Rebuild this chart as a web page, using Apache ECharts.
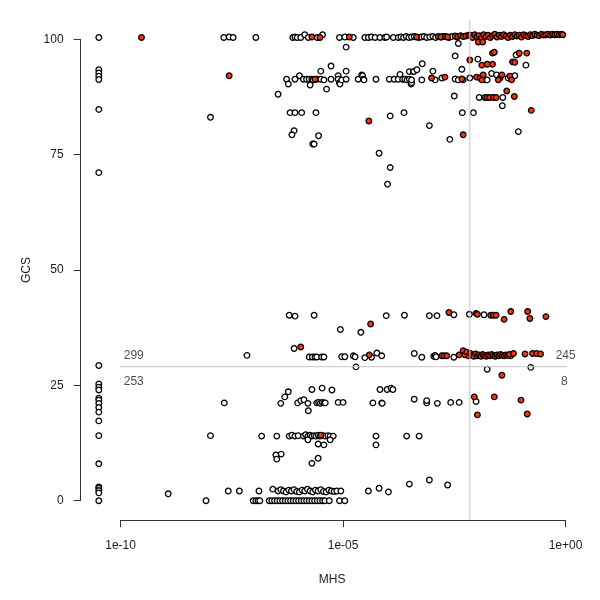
<!DOCTYPE html>
<html>
<head>
<meta charset="utf-8">
<script src="https://cdn.jsdelivr.net/npm/echarts@6/dist/echarts.min.js"></script>
<style>
  html, body { margin: 0; padding: 0; background: #fff; }
  #main { width: 600px; height: 600px; }
</style>
</head>
<body>
<div id="main"></div>
<script>
// x = log10(MHS), y = GCS
var openTop = [
  [-10.49, 100.4], [-7.68, 100.4], [-7.56, 100.5], [-7.47, 100.4], [-6.96, 100.4], [-6.13, 100.4],
  [-6.08, 100.5], [-6.03, 100.4], [-5.95, 100.4], [-5.86, 101.0], [-5.78, 100.4], [-5.58, 100.4],
  [-5.46, 101.0], [-5.08, 100.4], [-4.96, 100.5], [-4.93, 98.3], [-4.77, 100.4], [-4.51, 100.4],
  [-4.43, 100.4], [-4.36, 100.5], [-4.28, 100.4], [-4.17, 100.4], [-4.06, 100.4], [-4.02, 100.5],
  [-3.87, 100.4], [-3.76, 100.4], [-3.70, 100.5], [-3.64, 100.4], [-3.58, 100.6], [-3.52, 100.4],
  [-3.46, 100.5], [-3.40, 100.6], [-3.30, 100.4], [-3.24, 100.5], [-3.18, 100.6], [-3.12, 100.4],
  [-3.05, 100.5], [-2.98, 100.6], [-2.92, 100.4], [-2.80, 100.5], [-2.74, 100.6], [-2.62, 100.4],
  [-2.56, 100.6], [-2.44, 100.5], [-2.41, 99.1], [-2.48, 96.4], [-1.97, 95.7], [-1.06, 96.8],
  [-1.11, 96.6], [-3.22, 94.7], [-2.33, 93.5], [-0.89, 94.4]
];
var openUpper = [
  [-10.49, 93.4], [-10.49, 92.7], [-10.49, 92.0], [-10.49, 91.3], [-10.49, 84.8], [-10.49, 71.1],
  [-6.46, 88.1], [-6.27, 91.35], [-6.23, 90.3], [-6.08, 91.35], [-5.98, 92.1], [-5.89, 91.35],
  [-5.82, 91.35], [-5.76, 91.35], [-5.74, 90.1], [-5.70, 91.35], [-5.67, 91.2], [-5.59, 91.35],
  [-5.50, 93.1], [-5.50, 91.35], [-5.43, 91.2], [-5.37, 89.2], [-5.27, 94.2], [-5.27, 91.35],
  [-5.11, 92.1], [-5.11, 91.35], [-5.08, 90.6], [-5.07, 90.3], [-5.03, 91.2], [-4.93, 93.1],
  [-4.93, 91.35], [-4.66, 91.35], [-4.58, 92.3], [-4.56, 92.1], [-4.54, 91.35], [-4.53, 91.2],
  [-4.26, 91.35], [-3.96, 91.35], [-3.85, 91.35], [-3.76, 91.35], [-3.72, 92.4], [-3.66, 91.35],
  [-3.61, 91.35], [-3.56, 91.2], [-3.51, 91.35], [-3.51, 93.0], [-3.47, 90.3], [-3.46, 90.6],
  [-3.46, 91.2], [-3.42, 93.0], [-3.41, 93.0], [-3.34, 93.4], [-3.23, 91.2], [-2.98, 93.1],
  [-2.93, 91.2], [-2.78, 91.6], [-2.48, 91.4], [-2.41, 91.2], [-2.30, 91.2], [-2.15, 91.6],
  [-1.81, 91.2], [-1.76, 91.2], [-1.66, 92.6], [-1.55, 92.3], [-1.29, 91.6], [-1.14, 92.1],
  [-7.98, 83.1], [-6.19, 84.1], [-6.08, 84.1], [-5.93, 84.1], [-5.61, 84.1], [-3.94, 83.4],
  [-3.63, 84.1], [-3.06, 81.3], [-2.60, 78.3], [-2.32, 84.1], [-2.07, 84.1], [-1.06, 80.0],
  [-6.10, 80.2], [-6.15, 79.3], [-5.55, 79.1], [-5.68, 77.3], [-5.65, 77.3], [-4.19, 75.3],
  [-3.94, 72.2], [-4.00, 68.6], [-2.50, 87.7], [-1.94, 87.4], [-1.41, 87.4], [-1.42, 85.6]
];
var openMid = [
  [-10.49, 29.3], [-6.21, 40.2], [-6.08, 40.0], [-5.65, 40.2], [-4.03, 40.1], [-5.06, 37.1],
  [-4.60, 36.5], [-6.10, 33.0], [-7.16, 31.5], [-5.76, 31.15], [-5.69, 31.15], [-5.63, 31.15],
  [-5.59, 31.15], [-5.48, 31.15], [-5.43, 31.15], [-5.03, 31.2], [-4.96, 31.2], [-4.77, 31.4],
  [-4.73, 31.2], [-4.51, 31.0], [-4.36, 31.1], [-4.24, 32.0], [-4.13, 31.4], [-4.71, 29.0],
  [-3.62, 40.2], [-3.06, 40.1], [-2.89, 40.1], [-2.51, 40.3], [-2.16, 40.4], [-1.83, 40.3],
  [-3.40, 31.9], [-3.23, 31.1], [-2.96, 31.3], [-2.93, 31.5], [-2.91, 31.2], [-2.51, 31.1],
  [-1.23, 31.4], [-1.76, 28.5], [-0.78, 28.9]
];
var openLow = [
  [-10.49, 25.3], [-10.49, 24.6], [-10.49, 24.0], [-10.49, 22.2], [-10.49, 21.8], [-10.49, 21.1],
  [-10.49, 20.2], [-10.49, 19.2], [-10.49, 17.3], [-10.49, 14.1], [-10.49, 8.0], [-10.49, 3.0],
  [-10.49, 2.7], [-10.49, 2.2], [-10.49, 1.7], [-10.49, 0], [-8.93, 1.5], [-8.08, 0], [-7.98, 14.1],
  [-7.67, 21.2], [-6.23, 23.6], [-6.31, 22.5], [-6.40, 21.1], [-5.70, 24.1], [-5.47, 24.4],
  [-5.25, 24.0], [-6.02, 21.2], [-5.95, 21.7], [-5.88, 21.9], [-5.79, 21.1], [-5.78, 19.5],
  [-5.59, 21.2], [-5.55, 21.3], [-5.51, 21.1], [-5.47, 21.3], [-5.43, 21.2], [-5.40, 21.2],
  [-5.11, 21.3], [-5.00, 21.3], [-4.33, 21.2], [-4.13, 21.2], [-4.17, 24.1], [-4.01, 24.1],
  [-3.92, 24.4], [-3.88, 24.1], [-4.12, 21.1], [-3.40, 22.0], [-3.12, 21.2], [-3.12, 21.7],
  [-2.88, 21.1], [-2.58, 21.3], [-2.39, 21.3], [-2.01, 21.5]
];
var openRow14 = [
  [-6.83, 14.0], [-6.49, 14.0], [-6.21, 14.0], [-6.15, 14.2], [-6.08, 14.0], [-6.01, 14.1],
  [-5.89, 14.0], [-5.84, 14.3], [-5.79, 14.0], [-5.74, 14.2], [-5.70, 14.0], [-5.65, 14.1],
  [-5.61, 14.0], [-5.56, 14.2], [-5.52, 14.0], [-5.45, 14.1], [-5.40, 14.0], [-5.34, 14.1],
  [-5.29, 14.0], [-5.22, 14.0], [-5.79, 13.2], [-5.56, 12.3], [-5.43, 12.1], [-5.29, 13.2],
  [-4.26, 14.0], [-4.26, 12.1], [-3.57, 14.0], [-3.29, 14.0],
  [-6.51, 9.9], [-6.39, 10.1], [-6.49, 9.0], [-5.70, 8.1], [-5.56, 9.2]
];
var openBottom = [
  [-7.58, 2.1], [-7.33, 2.1], [-6.89, 2.1], [-6.58, 2.5], [-6.46, 2.1], [-6.40, 2.4], [-6.34, 2.1],
  [-6.28, 1.9], [-6.22, 2.3], [-6.16, 2.1], [-6.10, 2.4], [-6.04, 2.0], [-5.98, 1.9], [-5.92, 2.3],
  [-5.86, 2.1], [-5.80, 2.5], [-5.74, 2.1], [-5.68, 1.9], [-5.62, 2.3], [-5.56, 2.1], [-5.50, 2.4],
  [-5.44, 2.0], [-5.38, 1.9], [-5.32, 2.3], [-5.26, 2.1], [-5.20, 2.0], [-5.14, 2.1], [-5.05, 2.1],
  [-4.43, 2.1], [-4.19, 2.7], [-3.98, 1.9], [-3.51, 3.6], [-3.06, 4.5], [-2.65, 3.4],
  [-7.02, 0], [-6.96, 0], [-6.91, 0], [-6.87, 0], [-6.66, 0], [-6.60, 0], [-6.54, 0], [-6.48, 0],
  [-6.42, 0], [-6.36, 0], [-6.30, 0], [-6.24, 0], [-6.18, 0], [-6.12, 0], [-6.06, 0], [-6.00, 0],
  [-5.94, 0], [-5.88, 0], [-5.82, 0], [-5.76, 0], [-5.70, 0], [-5.64, 0], [-5.58, 0], [-5.52, 0],
  [-5.46, 0], [-5.41, 0], [-5.31, 0], [-5.08, 0], [-4.96, 0]
];

var redTop = [
  [-9.53, 100.4], [-5.70, 100.5], [-5.52, 100.4], [-4.86, 100.5], [-3.35, 100.5], [-2.86, 100.6],
  [-2.80, 100.5], [-2.70, 100.6], [-2.65, 100.5], [-2.48, 100.7], [-2.42, 100.6], [-2.36, 100.8],
  [-2.30, 100.6], [-2.24, 100.7], [-2.18, 100.9],
  [-2.14, 100.9], [-2.09, 100.4], [-2.04, 101.0], [-1.99, 100.6], [-1.94, 100.8], [-1.89, 100.3],
  [-1.84, 101.0], [-1.79, 100.6], [-1.74, 100.9], [-1.69, 100.4], [-1.64, 100.8], [-1.59, 101.1],
  [-1.54, 100.5], [-1.49, 100.9], [-1.44, 100.6], [-1.39, 101.0], [-1.34, 100.7], [-1.29, 100.4],
  [-1.24, 100.9], [-1.19, 100.6], [-1.14, 101.0], [-1.09, 100.7], [-1.04, 100.9], [-0.99, 100.5],
  [-0.94, 101.0], [-0.89, 100.8], [-0.84, 100.6], [-0.79, 101.0], [-0.74, 100.8], [-0.69, 101.1],
  [-0.64, 100.9], [-0.59, 100.8], [-0.54, 101.1], [-0.49, 100.9], [-0.44, 101.0], [-0.39, 101.1],
  [-0.34, 100.9], [-0.29, 101.1], [-0.24, 101.0], [-0.19, 101.1], [-0.14, 101.0], [-0.09, 101.1],
  [-0.06, 101.0],
  [-1.96, 99.4], [-1.86, 99.4], [-1.64, 97.0], [-1.60, 97.2], [-1.04, 97.0], [-0.87, 97.0],
  [-2.15, 95.5], [-1.88, 94.4], [-1.76, 94.6], [-1.64, 94.6], [-1.19, 95.1], [-1.14, 95.0]
];
var redUpper = [
  [-7.56, 92.1], [-5.63, 91.35], [-3.01, 91.6], [-2.71, 91.8], [-2.33, 91.4], [-2.00, 91.8],
  [-1.92, 91.6], [-1.88, 91.2], [-1.85, 92.3], [-1.47, 91.6], [-1.51, 91.2], [-1.43, 92.3],
  [-1.25, 92.0], [-1.21, 91.2], [-1.81, 87.4], [-1.76, 87.4], [-1.70, 87.4], [-1.62, 87.4],
  [-1.56, 87.4], [-1.32, 88.8], [-1.15, 87.6], [-0.77, 84.6], [-4.42, 82.3], [-2.30, 79.3]
];
var redMid = [
  [-5.95, 33.3], [-4.38, 38.3], [-4.41, 31.6], [-2.62, 40.8], [-2.01, 40.6], [-1.98, 40.4],
  [-1.68, 40.2], [-1.62, 40.2], [-1.56, 40.2], [-1.38, 39.3], [-1.23, 41.0], [-0.85, 41.0],
  [-0.80, 39.5], [-0.44, 39.9], [-2.78, 31.4], [-2.73, 31.4], [-2.67, 31.4], [-2.39, 31.6],
  [-2.30, 32.5], [-2.26, 31.6], [-2.22, 32.2], [-2.18, 31.4], [-2.14, 31.9], [-2.10, 31.5],
  [-2.06, 31.3], [-2.02, 31.8], [-1.98, 31.4], [-1.94, 31.6], [-1.90, 31.3], [-1.86, 31.7],
  [-1.82, 31.5], [-1.78, 31.3], [-1.74, 31.6], [-1.70, 31.4], [-1.66, 31.7], [-1.62, 31.5],
  [-1.58, 31.3], [-1.54, 31.6], [-1.50, 31.4], [-1.46, 31.7], [-1.42, 31.5], [-1.38, 31.4],
  [-1.34, 31.6], [-1.30, 31.5], [-1.26, 31.7], [-1.17, 31.9], [-0.91, 31.8], [-0.74, 31.9],
  [-0.65, 31.9], [-0.56, 31.8]
];
var redLow = [
  [-5.50, 14.2], [-1.43, 27.2], [-2.05, 22.5], [-1.60, 22.5], [-1.00, 21.8], [-1.98, 18.6],
  [-0.86, 18.8]
];

// cut lines and quadrant counts
var mhsCut = -2.15;
var gcsCut = 29.05;
var quadCounts = ['299', '253', '245', '8'];
var quadX = [-9.94, -9.94, 0.24, 0.06];
var quadY = [31.4, 25.9, 31.4, 25.9];
var quadSide = ['right', 'right', 'left', 'left'];

// full plotting region (R adds 4% around the data)
var xLo = -10.9, xHi = 0.4, yLo = -4.2, yHi = 104.2;

var openPts = [].concat(openTop, openUpper, openMid, openLow, openRow14, openBottom);
var redPts = [].concat(redTop, redUpper, redMid, redLow);

var font = 'Liberation Sans, Arial, Helvetica, sans-serif';
var ink = '#1a1a1a';

function expLabel (v) {
  if (v === 0) return '1e+00';
  var e = Math.abs(v);
  return '1e' + (v < 0 ? '-' : '+') + (e < 10 ? '0' + e : e);
}

var labelData = quadCounts.map(function (c, i) {
  return {
    value: [quadX[i], quadY[i]],
    label: { show: true, formatter: c, position: quadSide[i], distance: 0 }
  };
});

var chart = echarts.init(document.getElementById('main'));
chart.setOption({
  animation: false,
  backgroundColor: '#fff',
  grid: { left: 120.6, right: 34.5, top: 39.3, bottom: 99.3 },
  xAxis: {
    type: 'value',
    min: -10,
    max: 0,
    interval: 5,
    offset: 19.5,
    name: 'MHS',
    nameLocation: 'middle',
    nameGap: 53,
    nameTextStyle: { fontFamily: font, fontSize: 12, color: ink, padding: [0, 22, 0, 0] },
    axisLine: { onZero: false, lineStyle: { color: '#333', width: 1 } },
    axisTick: { length: 7, lineStyle: { color: '#333', width: 1 } },
    axisLabel: { formatter: expLabel, margin: 19, fontFamily: font, fontSize: 12, color: ink },
    splitLine: { show: false }
  },
  yAxis: {
    type: 'value',
    min: 0,
    max: 100,
    interval: 25,
    offset: 40,
    name: 'GCS',
    nameLocation: 'middle',
    nameGap: 36,
    nameTextStyle: { fontFamily: font, fontSize: 12, color: ink },
    axisLine: { show: true, onZero: false, lineStyle: { color: '#333', width: 1 } },
    axisTick: { show: true, length: 7, lineStyle: { color: '#333', width: 1 } },
    axisLabel: { margin: 17, fontFamily: font, fontSize: 12, color: ink },
    splitLine: { show: false }
  },
  series: [
    {
      type: 'line',
      clip: false,
      symbol: 'none',
      silent: true,
      lineStyle: { color: '#c4c4c4', width: 1 },
      data: [[xLo, gcsCut], [xHi, gcsCut]]
    },
    {
      type: 'line',
      clip: false,
      symbol: 'none',
      silent: true,
      lineStyle: { color: '#c4c4c4', width: 1 },
      data: [[mhsCut, yLo], [mhsCut, yHi]]
    },
    {
      type: 'scatter',
      clip: false,
      symbolSize: 5.6,
      itemStyle: { color: '#fff', borderColor: '#000', borderWidth: 1.3, opacity: 1 },
      data: openPts
    },
    {
      type: 'scatter',
      clip: false,
      symbolSize: 5.6,
      itemStyle: { color: '#fa3210', borderColor: '#000', borderWidth: 1.3, opacity: 1 },
      data: redPts
    },
    {
      type: 'scatter',
      clip: false,
      silent: true,
      symbolSize: 1,
      itemStyle: { color: 'rgba(0,0,0,0)' },
      label: { fontFamily: font, fontSize: 12, color: ink },
      data: labelData
    }
  ]
});
</script>
</body>
</html>
